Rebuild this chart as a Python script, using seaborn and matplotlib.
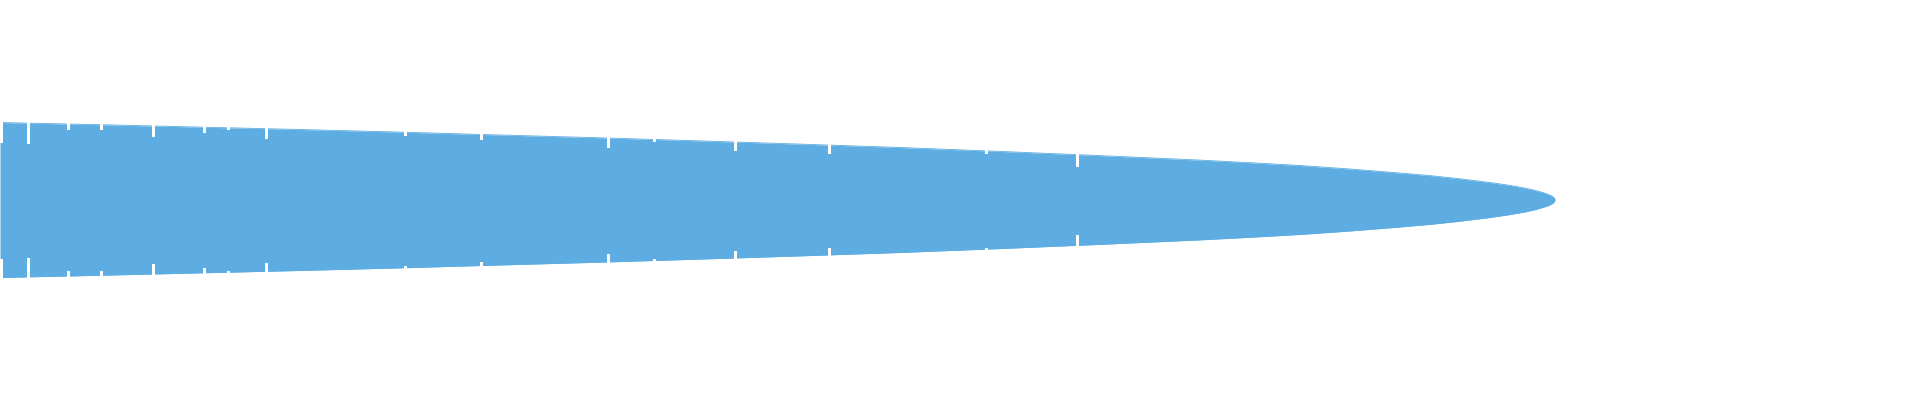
import numpy as np
import matplotlib
matplotlib.use("Agg")
import matplotlib.pyplot as plt
import seaborn as sns

# ---- data ----
# violin body: value position along the axis and half-width of the shape
values = [0, 100, 200, 300, 400, 500, 600, 700, 800, 900, 1000, 1100, 1200,
          1250, 1300, 1350, 1400, 1430, 1460, 1490, 1510, 1525, 1535, 1543,
          1548, 1551, 1553, 1554.5, 1555]
half_width = [77.5, 75.3, 72.9, 70.5, 67.9, 65.0, 62.2, 59.1, 55.9, 52.5, 48.6,
              44.4, 39.9, 37.3, 34.5, 31.0, 27.0, 24.4, 21.2, 17.5, 14.6, 11.9,
              9.7, 7.4, 5.7, 4.3, 3.1, 1.6, 0.0]

# individual observations (white sticks) and where each stick's visible part ends
stick_values = [0.5, 27.5, 68, 100.5, 152.5, 203.5, 228, 266, 404.5, 480.6,
                607.6, 654, 735, 829, 986, 1077]
stick_inner = [58.5, 57.5, 70.8, 70.8, 63.8, 68.2, 70.8, 62.5, 65.5, 61.5,
               53.5, 58.8, 50.5, 47.5, 47.5, 34.5]

COLOR = "#5DADE2"

sns.set_theme(style="white")
fig = plt.figure(figsize=(19.2, 4.0), dpi=100)
ax = fig.add_axes([0, 0, 1, 1])

x = np.asarray(values, dtype=float)
h = np.asarray(half_width, dtype=float)

ax.fill_between(x, -h, h, color=COLOR, linewidth=0, antialiased=False)
sns.lineplot(x=x, y=h, ax=ax, color=COLOR, linewidth=0.6, sort=True)
sns.lineplot(x=x, y=-h, ax=ax, color=COLOR, linewidth=0.6, sort=True)

ax.set_xlim(0, 1920)
ax.set_ylim(-200, 200)

sx = np.asarray(stick_values, dtype=float)
si = np.asarray(stick_inner, dtype=float)
top = ax.get_ylim()[1]
ax.vlines(sx, si, top, colors="white", linewidth=0.8, antialiased=False)
ax.vlines(sx, -top, -si, colors="white", linewidth=0.8, antialiased=False)

ax.set_axis_off()
fig.savefig("out.png", dpi=100, facecolor="white")
